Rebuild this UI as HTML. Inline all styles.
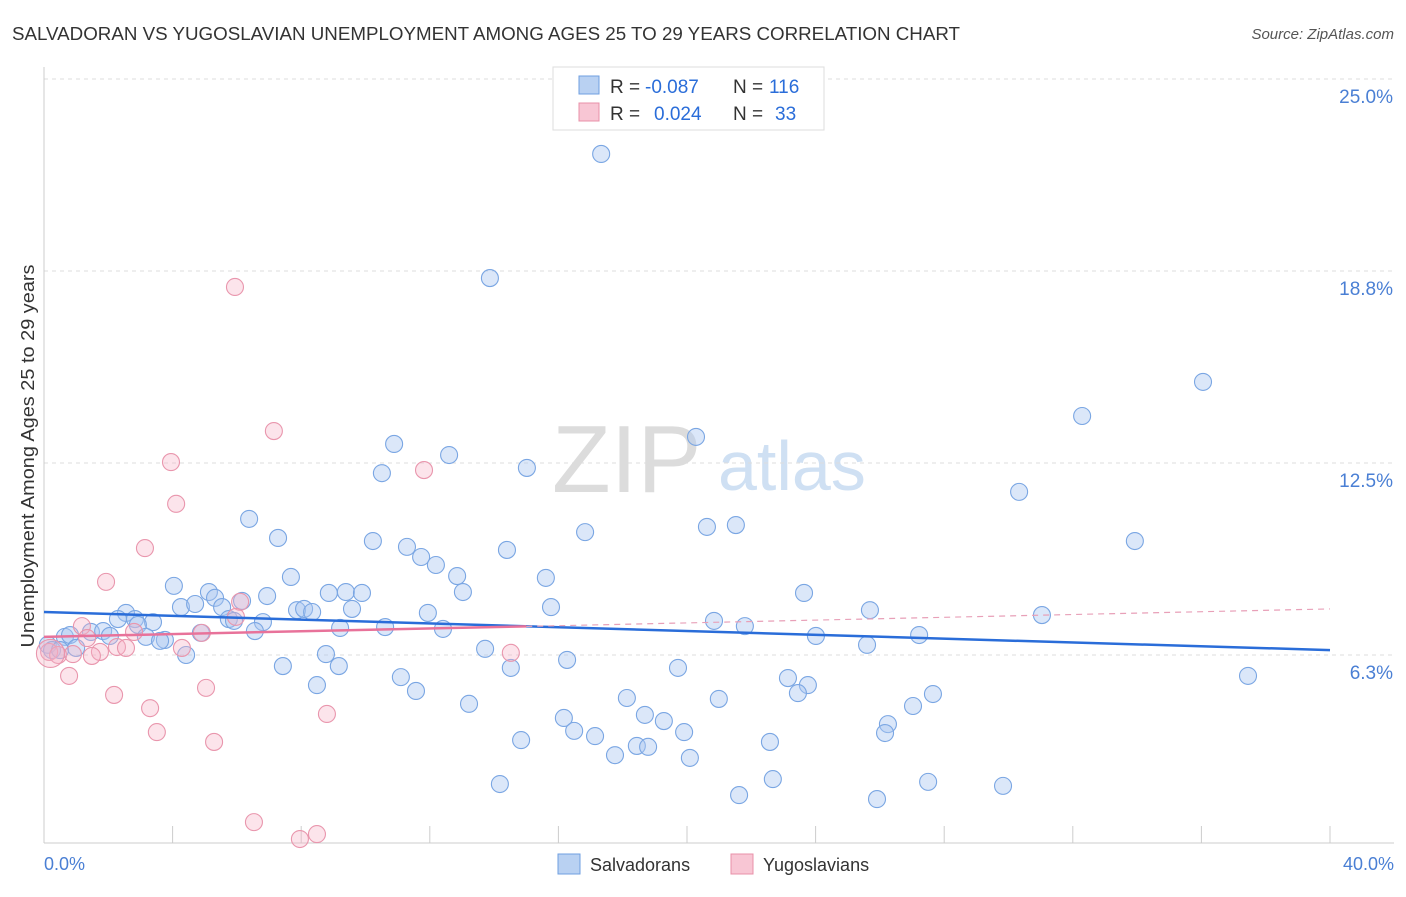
<!DOCTYPE html>
<html><head><meta charset="utf-8"><style>
body{margin:0;background:#fff;font-family:"Liberation Sans",sans-serif;}
svg text{font-family:"Liberation Sans",sans-serif;}
</style></head><body>
<svg width="1406" height="892" xmlns="http://www.w3.org/2000/svg">
<text x="12" y="40" font-size="18" fill="#333" textLength="948" lengthAdjust="spacingAndGlyphs">SALVADORAN VS YUGOSLAVIAN UNEMPLOYMENT AMONG AGES 25 TO 29 YEARS CORRELATION CHART</text>
<text x="1394" y="39" font-size="15" fill="#555" text-anchor="end" font-style="italic">Source: ZipAtlas.com</text>
<g>
<text x="552" y="492" font-size="96" fill="#dcdcdc" font-family="Liberation Serif">ZIP</text>
<text x="718" y="490" font-size="70" fill="#cfe0f3">atlas</text>
</g>
<g id="grid"></g>
<g id="axes"></g>
<g id="pts"></g>
<g id="trend"></g>
<text x="34" y="456" font-size="18" fill="#333" text-anchor="middle" textLength="383" lengthAdjust="spacingAndGlyphs" transform="rotate(-90 34 456)">Unemployment Among Ages 25 to 29 years</text>
<text x="44" y="870" font-size="18" fill="#4a7fd4">0.0%</text>
<text x="1394" y="870" font-size="18" fill="#4a7fd4" text-anchor="end">40.0%</text>
<g>
<rect x="553" y="67" width="271" height="63" fill="#fff" stroke="#ddd"/>
<rect x="579" y="76" width="20" height="18" fill="#b9d1f2" stroke="#6f9fe0"/>
<rect x="579" y="103" width="20" height="18" fill="#f8c6d4" stroke="#e890a8"/>
<text y="93" font-size="19" fill="#333"><tspan x="610">R =</tspan><tspan x="645" fill="#2a6dd9">-0.087</tspan><tspan x="733">N =</tspan><tspan x="769" fill="#2a6dd9">116</tspan></text>
<text y="120" font-size="19" fill="#333"><tspan x="610">R =</tspan><tspan x="654" fill="#2a6dd9">0.024</tspan><tspan x="733">N =</tspan><tspan x="775" fill="#2a6dd9">33</tspan></text>
</g>
<g>
<rect x="558" y="854" width="22" height="20" fill="#b9d1f2" stroke="#6f9fe0"/>
<text x="590" y="871" font-size="18" fill="#333">Salvadorans</text>
<rect x="731" y="854" width="22" height="20" fill="#f8c6d4" stroke="#e890a8"/>
<text x="763" y="871" font-size="18" fill="#333">Yugoslavians</text>
</g>
</svg>
<script>
const yTicks=[6.25,12.5,18.75,25];
const yTickLabels=["6.3%","12.5%","18.8%","25.0%"];
const xTicks=[0,4,8,12,16,20,24,28,32,36,40];
const blueX=[17.33,13.87,36.05,32.29,20.28,10.89,12.60,10.51,15.02,30.33,6.38,20.62,21.52,16.83,7.28,10.23,33.93,11.29,14.40,11.73,12.19,7.68,12.85,15.61,4.04,5.13,5.32,6.94,8.86,9.39,9.89,13.03,23.64,4.26,4.70,5.54,6.16,7.87,8.09,8.34,9.58,11.94,15.77,25.69,31.04,2.55,2.30,2.83,3.39,2.92,5.75,5.91,6.81,20.84,21.80,9.21,10.61,12.41,6.56,1.46,1.84,2.05,0.65,0.81,3.17,3.76,3.61,4.88,24.01,27.22,25.60,0.12,0.25,0.50,1.00,4.42,8.77,13.72,16.27,14.52,9.17,7.43,19.72,37.45,11.10,23.14,23.76,23.45,8.49,11.57,27.65,18.13,20.99,27.03,13.22,18.69,16.17,19.28,26.25,16.49,19.91,26.16,14.84,17.14,22.58,18.44,18.79,17.76,20.09,22.67,27.50,14.18,29.83,21.62,25.91];
const blueY=[22.56,18.52,15.14,14.03,13.35,13.12,12.76,12.17,12.34,11.56,10.68,10.42,10.48,10.25,10.06,9.96,9.96,9.77,9.67,9.44,9.18,8.79,8.82,8.76,8.50,8.30,8.11,8.17,8.27,8.30,8.27,8.30,8.27,7.81,7.91,7.81,8.01,7.71,7.75,7.65,7.75,7.62,7.81,7.71,7.55,7.62,7.42,7.42,7.32,7.23,7.42,7.36,7.32,7.36,7.19,7.13,7.16,7.10,7.03,7.00,7.03,6.87,6.84,6.90,6.84,6.74,6.71,6.97,6.87,6.90,6.58,6.58,6.41,6.41,6.48,6.25,6.28,6.45,6.09,5.83,5.89,5.89,5.83,5.57,5.53,5.50,5.27,5.01,5.27,5.08,4.98,4.85,4.82,4.59,4.66,4.30,4.20,4.10,4.00,3.78,3.74,3.71,3.48,3.61,3.42,3.29,3.26,2.99,2.90,2.21,2.12,2.05,1.99,1.69,1.56];
const pinkX=[5.94,7.15,3.95,11.82,4.11,3.14,1.93,6.10,5.97,1.18,2.80,4.91,1.34,2.27,2.55,4.29,1.74,0.16,0.44,0.90,1.49,14.52,0.78,2.18,5.04,3.30,8.80,3.51,5.29,6.53,8.49,7.96,0.2];
const pinkY=[18.23,13.54,12.53,12.27,11.17,9.73,8.63,7.98,7.49,7.19,7.00,6.97,6.80,6.51,6.48,6.48,6.35,6.35,6.25,6.28,6.22,6.32,5.57,4.95,5.18,4.52,4.33,3.74,3.42,0.81,0.42,0.26,6.3];
const blueTrend=[7.65,6.41];
const pinkTrend=[6.84,7.75];
const pinkSolidEnd=15;
const NS="http://www.w3.org/2000/svg";
const X=v=>44+v*32.15, Y=v=>847-v*30.72;
function mk(tag,attrs,parent){const e=document.createElementNS(NS,tag);for(const k in attrs)e.setAttribute(k,attrs[k]);document.getElementById(parent).appendChild(e);return e;}
yTicks.forEach((t,i)=>{
 const l=mk('line',{x1:44,x2:1394,y1:Y(t),y2:Y(t),stroke:'#ddd','stroke-dasharray':'4,4'},'grid');
 
 
 const tx=mk('text',{x:1393,y:Y(t)+24,'font-size':19,fill:'#4a7fd4','text-anchor':'end'},'grid');
 tx.textContent=yTickLabels[i];
 
 
});
let a=mk('line',{x1:44,x2:44,y1:67,y2:843,stroke:'#ccc'},'axes');


a=mk('line',{x1:44,x2:1394,y1:843,y2:843,stroke:'#ccc'},'axes');


xTicks.forEach(t=>{
 const l=mk('line',{x1:X(t),x2:X(t),y1:826,y2:843,stroke:'#ccc'},'axes');
 
 
});
blueX.forEach((v,i)=>{
 const c=mk('circle',{cx:X(v),cy:Y(blueY[i]),r:8.5,fill:'rgba(170,198,240,0.42)',stroke:'#7aa6e3','stroke-width':1.1},'pts');
 
 
});
pinkX.forEach((v,i)=>{
 const c=mk('circle',{cx:X(v),cy:Y(pinkY[i]),r:i==pinkX.length-1?14:8.5,fill:'rgba(245,178,198,0.35)',stroke:'#e996ad','stroke-width':1.1},'pts');
 
 
});
let t=mk('line',{x1:X(0),x2:X(40),y1:Y(blueTrend[0]),y2:Y(blueTrend[1]),stroke:'#2a6dd9','stroke-width':2.5},'trend');


const pe=pinkTrend[0]+(pinkTrend[1]-pinkTrend[0])*pinkSolidEnd/40;
t=mk('line',{x1:X(0),x2:X(pinkSolidEnd),y1:Y(pinkTrend[0]),y2:Y(pe),stroke:'#e8729a','stroke-width':2.5},'trend');


t=mk('line',{x1:X(pinkSolidEnd),x2:X(40),y1:Y(pe),y2:Y(pinkTrend[1]),stroke:'#e8a0b8','stroke-width':1.2,'stroke-dasharray':'6,5'},'trend');


</script>
</body></html>
